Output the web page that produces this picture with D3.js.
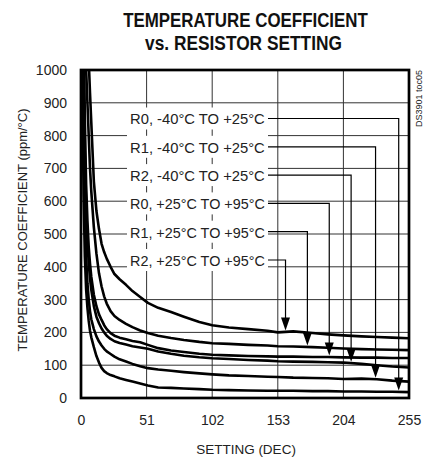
<!DOCTYPE html><meta charset="utf-8">
<style>
*{margin:0}
body{background:#fff}
text{font-family:"Liberation Sans",Arial,sans-serif;fill:#222}
.title{font-weight:bold;font-size:21px;fill:#111}
</style>
<svg width="425" height="459"></svg>
<script src="https://d3js.org/d3.v7.min.js"></script>
<script>
// settings (DEC) at which the curves were read
const setting = [1,2,3,4,5,6,7,8,10,12,14,16,18,20,23,26,30,35,40,46,52,60,70,80,92,102,115,130,145,153,165,180,192,204,218,230,242,255];

// tempco (ppm/°C)
const r2Hot  = [2400,1900,1500,1250,1120,1030,930,840,660,570,515,470,445,425,400,378,362,345,326,308,290,275,262,248,232,222,215,210,205,200,203,198,194,191,188,186,184,182];
const r1Hot  = [2000,1500,1200,1000,900,800,700,630,520,440,380,340,310,288,265,250,238,226,216,206,198,190,183,177,171,167,165,162,160,158,157,155,153,151,149,148,147,146];
const r0Hot  = [1700,1150,850,650,540,460,410,370,315,280,255,238,222,210,198,190,184,179,174,170,162,152,145,140,135,132,130,128,127,126,126,125,125,124,123,123,122,122];
const r2Cold = [1500,1000,740,580,480,410,365,330,280,248,228,212,200,190,180,173,168,163,158,154,150,142,135,129,124,121,119,116,114,112,111,110,109,108,104,100,96,93];
const r1Cold = [1300,800,560,430,350,300,265,240,210,188,172,160,150,142,134,126,118,111,104,97,91,87,83,79,75,72,69,67,65,64,62,61,60,58,59,57,53,50];
const r0Cold = [1000,620,430,330,275,235,205,185,155,128,108,92,82,76,70,66,60,55,50,44,38,32,31,29,27,25,24,23,22,22,22,21,21,20,20,19,19,18];

// callouts, top to bottom, with the setting where each arrow lands
const labels = ["R0, -40°C TO +25°C","R1, -40°C TO +25°C","R2, -40°C TO +25°C",
                "R0, +25°C TO +95°C","R1, +25°C TO +95°C","R2, +25°C TO +95°C"];
const series = [r0Cold, r1Cold, r2Cold, r0Hot, r1Hot, r2Hot];
const arrowSetting = [247, 229, 210, 193, 176, 159];

const xTicks = [0,51,102,153,204,255];
const yTicks = [0,100,200,300,400,500,600,700,800,900,1000];

const svg = d3.select("svg"),
      L = 81, R = 409, T = 70, B = 398,
      x = d3.scaleLinear().domain([0,255]).range([L,R]),
      y = d3.scaleLinear().domain([0,1000]).range([B,T]);

// squeeze a text horizontally to a width, like the condensed face of the original
function squeeze(sel, w){
  sel.each(function(){
    const t = d3.select(this), k = w / this.getComputedTextLength();
    t.attr("transform",`translate(${t.attr("x")},${t.attr("y")}) scale(${k},1)`)
     .attr("x",0).attr("y",0);
  });
}

// title
svg.append("text").attr("class","title").attr("x",245.5).attr("y",26.5)
   .attr("text-anchor","middle").text("TEMPERATURE COEFFICIENT").call(squeeze,245);
svg.append("text").attr("class","title").attr("x",243.5).attr("y",50)
   .attr("text-anchor","middle").text("vs. RESISTOR SETTING").call(squeeze,197);

// horizontal grid
svg.append("g").selectAll("line").data(yTicks.slice(1,-1)).join("line")
   .attr("x1",L).attr("x2",R).attr("y1",y).attr("y2",y)
   .attr("stroke","#333").attr("stroke-width",1);

// callout rows
const rowY = d => 118.5 + d*28.3,
      boxL = 127;
svg.append("rect").attr("x",boxL).attr("y",rowY(0)-11)
   .attr("width",141).attr("height",rowY(5)-rowY(0)+22).attr("fill","#fff");

// vertical grid
svg.append("g").selectAll("line").data(xTicks.slice(1,-1)).join("line")
   .attr("x1",x).attr("x2",x).attr("y1",T).attr("y2",B)
   .attr("stroke","#333").attr("stroke-width",1);

const rows = svg.append("g").selectAll("g").data(labels).join("g");
rows.append("rect").attr("x",boxL).attr("y",(d,i)=>rowY(i)-11)
    .attr("width",141).attr("height",22).attr("fill","#fff");
rows.append("text").attr("x",130).attr("y",(d,i)=>rowY(i)+5.8)
    .attr("font-size",15.5).text(d=>d).call(squeeze,135);

// curves
svg.append("clipPath").attr("id","plot")
   .append("rect").attr("x",L).attr("y",T).attr("width",R-L).attr("height",B-T);
const line = d3.line().x((d,i)=>x(setting[i])).y(d=>y(d));
svg.append("g").attr("clip-path","url(#plot)").selectAll("path").data(series).join("path")
   .attr("d",line).attr("fill","none").attr("stroke","#000")
   .attr("stroke-width",2.6).attr("stroke-linejoin","round");

// leaders and arrows
const valueAt = (vals,s) => {
  const j = d3.bisectRight(setting,s), t = (s-setting[j-1])/(setting[j]-setting[j-1]);
  return vals[j-1] + t*(vals[j]-vals[j-1]);
};
rows.each(function(d,i){
  const g = d3.select(this),
        end = 130 + 135 + 3,
        ax = x(arrowSetting[i]),
        tip = y(valueAt(series[i],arrowSetting[i])) - 1.5;
  g.append("path").attr("fill","none").attr("stroke","#000").attr("stroke-width",1.2)
   .attr("d",`M${end},${rowY(i)}H${ax}V${tip-12}`);
  g.append("path").attr("fill","#000")
   .attr("d",`M${ax-4.5},${tip-13}H${ax+4.5}L${ax},${tip}Z`);
});

// axes
const ya = svg.append("g").attr("transform",`translate(${L},0)`)
   .call(d3.axisLeft(y).tickValues(yTicks).tickFormat(d3.format("d")).tickSize(0).tickPadding(14));
const xa = svg.append("g").attr("transform",`translate(0,${B})`)
   .call(d3.axisBottom(x).tickValues(xTicks).tickSize(0).tickPadding(17));
[ya,xa].forEach(a=>{a.select(".domain").remove();
  a.selectAll("text").attr("font-size",14).attr("font-family",null).attr("fill","#222");});

// frame
svg.append("rect").attr("x",L).attr("y",T).attr("width",R-L).attr("height",B-T)
   .attr("fill","none").attr("stroke","#000").attr("stroke-width",2.7);

// axis titles
svg.append("text").attr("x",246).attr("y",454).attr("text-anchor","middle")
   .attr("font-size",13.5).text("SETTING (DEC)");
svg.append("text").attr("transform","translate(27,230) rotate(-90)")
   .attr("text-anchor","middle").attr("font-size",13).text("TEMPERATURE COEFFICIENT (ppm/°C)");
svg.append("text").attr("transform","translate(422,70) rotate(-90)")
   .attr("text-anchor","end").attr("font-size",9).text("DS3901 toc05");
</script>
